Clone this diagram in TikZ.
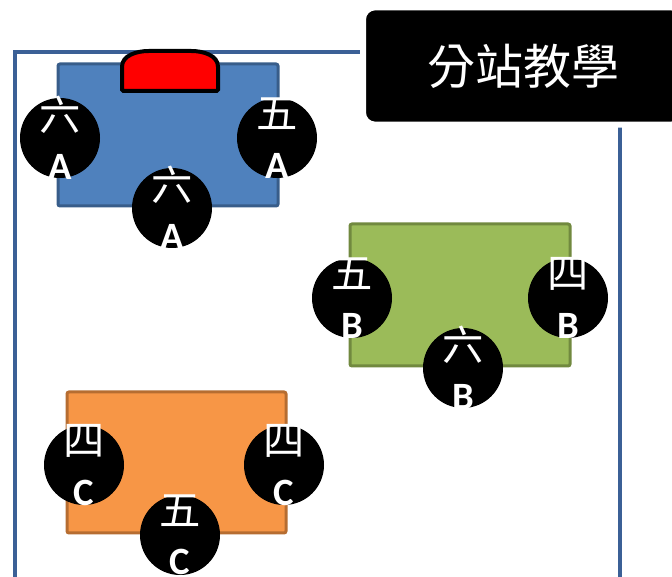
\documentclass[tikz,border=0pt]{standalone}
\usepackage{fontspec}
\newfontfamily\cjk{Noto Sans CJK TC}
\newfontfamily\lat{Carlito}
\usepackage{tikz}
\usetikzlibrary{positioning,shadows}
\definecolor{framecol}{HTML}{3B6096}
\definecolor{bluefill}{HTML}{4F81BD}
\definecolor{blueline}{HTML}{385D8A}
\definecolor{greenfill}{HTML}{9BBB59}
\definecolor{greenline}{HTML}{71893F}
\definecolor{orangefill}{HTML}{F79646}
\definecolor{orangeline}{HTML}{B66D31}
\newcommand{\seatlabel}[2]{{\cjk #1}\\{\lat\fontsize{29}{37}\selectfont\bfseries #2}}
\tikzset{
  seat/.style={circle,fill=black,inner sep=0pt,minimum size=60pt},
  seattext/.style={text=white,inner sep=0pt,align=center,
    font=\cjk\fontsize{31}{37}\selectfont},
  station/.style={line width=2.25pt,rounded corners=1.5pt}
}

\begin{document}
\begin{tikzpicture}[x=0.75pt,y=-0.75pt]
\useasboundingbox (0,0) rectangle (672,577);
% classroom frame
\draw[framecol,line width=2.4pt] (15,600) -- (15,52) -- (620,52) -- (620,600);
% stations
\draw[station,draw=blueline,fill=bluefill] (58,64) rectangle (278,206);
\draw[station,draw=greenline,fill=greenfill] (350,224) rectangle (570,366);
\draw[station,draw=orangeline,fill=orangefill] (67,392) rectangle (286,533);
% teacher desk
\draw[fill=red,line width=3pt,rounded corners=1pt] (122,91) -- (122,68)
  to[out=90,in=180] (150,51) -- (190,51) to[out=0,in=90] (218,68) -- (218,91) -- cycle;
% seats
\node[seat,label={[seattext]center:\seatlabel{六}{A}}] (A1) at (60,138) {};
\node[seat,label={[seattext]center:\seatlabel{五}{A}}] (A2) at (277,138) {};
\node[seat,label={[seattext]center:\seatlabel{六}{A}}] (A3) at (172,208) {};
\node[seat,label={[seattext]center:\seatlabel{五}{B}}] (B1) at (352,298) {};
\node[seat,label={[seattext]center:\seatlabel{四}{B}}] (B2) at (568,298) {};
\node[seat,label={[seattext]center:\seatlabel{六}{B}}] (B3) at (463,368) {};
\node[seat,label={[seattext]center:\seatlabel{四}{C}}] (C1) at (84,465) {};
\node[seat,label={[seattext]center:\seatlabel{四}{C}}] (C2) at (284,465) {};
\node[seat,label={[seattext]center:\seatlabel{五}{C}}] (C3) at (180,535) {};
% title
\node[fill=black,draw=white,line width=4.5pt,rounded corners=9pt,
  minimum width=240pt,minimum height=88pt,text=white,
  font=\cjk\fontsize{36}{40}\selectfont,
  drop shadow={shadow xshift=1.5pt,shadow yshift=-1.5pt,opacity=0.3}]
  (title) at (523,66) {分站教學};
\end{tikzpicture}
\end{document}
